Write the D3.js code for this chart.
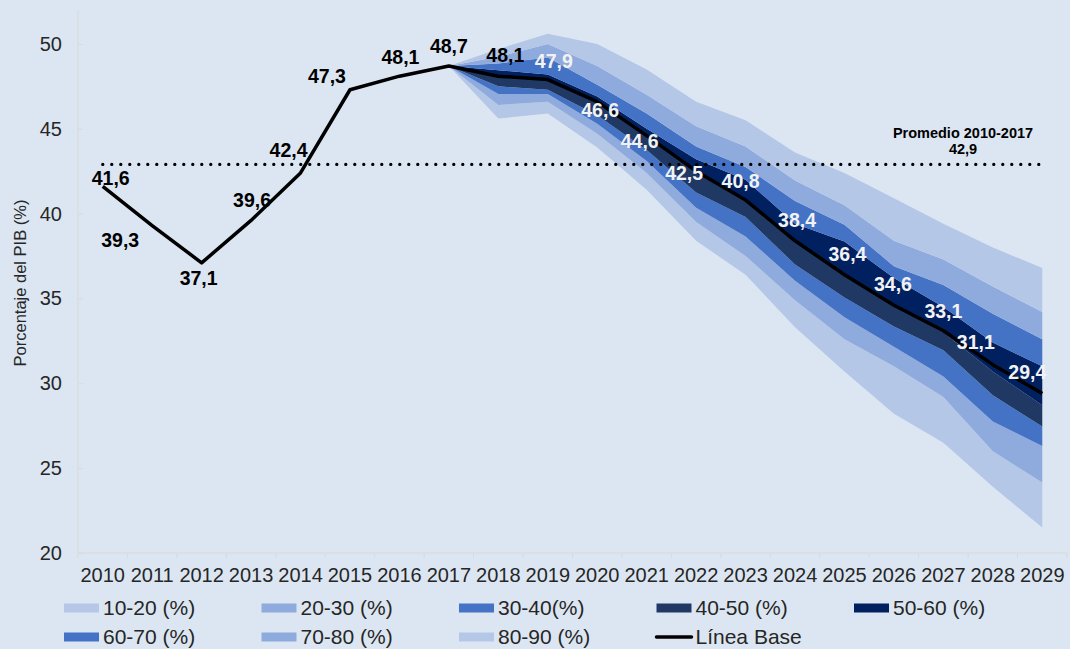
<!DOCTYPE html>
<html>
<head>
<meta charset="utf-8">
<script src="https://cdn.jsdelivr.net/npm/d3@7"></script>
<style>
  body { margin: 0; background: #dce6f2; }
  text { font-family: "Liberation Sans", Arial, sans-serif; }
</style>
</head>
<body>
<script>

// Historic years and baseline (% of GDP)
var years = [2010, 2011, 2012, 2013, 2014, 2015, 2016, 2017, 2018, 2019,
             2020, 2021, 2022, 2023, 2024, 2025, 2026, 2027, 2028, 2029];
var baseline = [41.6, 39.3, 37.1, 39.6, 42.4, 47.3, 48.1, 48.7, 48.1, 47.9,
                46.6, 44.6, 42.5, 40.8, 38.4, 36.4, 34.6, 33.1, 31.1, 29.4];
var baseLabels = ["41,6", "39,3", "37,1", "39,6", "42,4", "47,3", "48,1", "48,7", "48,1", "47,9",
                  "46,6", "44,6", "42,5", "40,8", "38,4", "36,4", "34,6", "33,1", "31,1", "29,4"];

// Fan chart percentiles, 2017-2029
var fanYears = [2017, 2018, 2019, 2020, 2021, 2022, 2023, 2024, 2025, 2026, 2027, 2028, 2029];
var p10 = [48.7, 45.6, 45.9, 43.9, 41.4, 38.4, 36.4, 33.3, 30.7, 28.2, 26.5, 23.9, 21.5];
var p20 = [48.7, 46.4, 46.6, 44.7, 42.4, 39.5, 37.5, 34.9, 32.6, 31.0, 29.2, 26.0, 24.15];
var p30 = [48.7, 47.05, 47.05, 45.3, 43.1, 40.35, 38.65, 36.05, 33.9, 32.15, 30.4, 27.75, 26.3];
var p40 = [48.7, 47.5, 47.3, 45.8, 43.75, 41.25, 39.8, 37.0, 35.05, 33.35, 31.95, 29.3, 27.45];
var p50 = [48.7, 48.1, 47.9, 46.6, 44.6, 42.5, 40.8, 38.4, 36.4, 34.6, 33.0, 30.7, 28.7];
var p60 = [48.7, 48.45, 48.2, 46.9, 45.0, 43.2, 42.0, 39.4, 38.35, 36.2, 34.5, 32.4, 31.0];
var p70 = [48.7, 48.85, 49.2, 47.6, 45.9, 43.95, 42.75, 40.75, 39.35, 36.9, 35.8, 34.1, 32.6];
var p80 = [48.7, 49.25, 50.0, 48.7, 47.0, 45.15, 43.95, 41.95, 40.5, 38.4, 37.3, 35.7, 34.2];
var p90 = [48.7, 49.7, 50.6, 50.0, 48.5, 46.6, 45.5, 43.6, 42.4, 40.9, 39.4, 38.0, 36.8];

var bandNames = ["10-20 (%)", "20-30 (%)", "30-40(%)", "40-50 (%)", "50-60 (%)",
                 "60-70 (%)", "70-80 (%)", "80-90 (%)"];
var bandColors = ["#b4c7e7", "#8faadc", "#4472c4", "#1f3864", "#002060",
                  "#4472c4", "#8faadc", "#b4c7e7"];

var average = 42.9;
var yTicks = [20, 25, 30, 35, 40, 45, 50];

// label placement relative to each point (dx, dy)
var labelDx = [8, -32, -3, 1, -12, -23, 1, 0, 7, 6, 3, -7, -12, -5, 2, 3, -1, 0, -17, -15];
var labelDy = [-8, 15, 15, -20, -23, -14, -19, -20, -21, -18, 9, 6, 2, -19, -21, -21, -21, -20, -22, -21];

var width = 1070;
var height = 649;

var svg = d3.select("body")
  .append("svg")
  .attr("width", width)
  .attr("height", height);

svg.append("rect")
  .attr("width", width)
  .attr("height", height)
  .attr("fill", "#dce6f2");

var x = d3.scaleBand()
  .domain(years)
  .range([78, 1067])
  .padding(0);

var y = d3.scaleLinear()
  .domain([20, 52])
  .range([553, 10]);

function cx(yr) { return x(yr) + x.bandwidth() / 2; }

// Fan bands
var quantiles = [p10, p20, p30, p40, p50, p60, p70, p80, p90];
var fanData = fanYears.map(function (yr, i) {
  return { year: yr, q: quantiles.map(function (a) { return a[i]; }) };
});

bandColors.forEach(function (col, b) {
  var area = d3.area()
    .x(function (d) { return cx(d.year); })
    .y0(function (d) { return y(d.q[b]); })
    .y1(function (d) { return y(d.q[b + 1]); });
  svg.append("path")
    .datum(fanData)
    .attr("d", area)
    .attr("fill", col);
});

// Axes
var yAxis = svg.append("g")
  .attr("transform", "translate(78,0)")
  .call(d3.axisRight(y).tickValues(yTicks).tickSize(5).tickFormat(""));
yAxis.select(".domain").attr("stroke", "#d9d9d9").attr("d", "M0," + y(52) + "V" + y(20));
yAxis.selectAll(".tick line").attr("stroke", "#d9d9d9");

yTicks.forEach(function (t) {
  svg.append("text")
    .attr("x", 62)
    .attr("y", y(t))
    .attr("dy", "0.35em")
    .attr("text-anchor", "end")
    .attr("font-size", "20px")
    .attr("fill", "#262626")
    .text(t);
});

var xAxis = svg.append("g")
  .attr("transform", "translate(0,553)");
xAxis.append("line")
  .attr("x1", 78).attr("x2", 1067)
  .attr("stroke", "#d9d9d9");
xAxis.selectAll("line.tk")
  .data(years.concat([null]))
  .enter().append("line")
  .attr("class", "tk")
  .attr("x1", function (d, i) { return 78 + i * x.bandwidth(); })
  .attr("x2", function (d, i) { return 78 + i * x.bandwidth(); })
  .attr("y1", 0).attr("y2", 5)
  .attr("stroke", "#d9d9d9");
xAxis.selectAll("text")
  .data(years)
  .enter().append("text")
  .attr("x", function (d) { return cx(d); })
  .attr("y", 29)
  .attr("text-anchor", "middle")
  .attr("font-size", "20px")
  .attr("fill", "#262626")
  .text(function (d) { return d; });

svg.append("text")
  .attr("transform", "translate(26,283) rotate(-90)")
  .attr("text-anchor", "middle")
  .attr("font-size", "16.5px")
  .attr("fill", "#262626")
  .text("Porcentaje del PIB (%)");

// Average line
svg.append("line")
  .attr("x1", cx(2010))
  .attr("x2", cx(2029))
  .attr("y1", y(average))
  .attr("y2", y(average))
  .attr("stroke", "#000")
  .attr("stroke-width", 3.2)
  .attr("stroke-linecap", "round")
  .attr("stroke-dasharray", "0.1,8.9");

svg.append("text")
  .attr("x", 963)
  .attr("y", 138)
  .attr("text-anchor", "middle")
  .attr("font-size", "14.5px")
  .attr("font-weight", "bold")
  .attr("fill", "#000")
  .text("Promedio 2010-2017");
svg.append("text")
  .attr("x", 963)
  .attr("y", 154)
  .attr("text-anchor", "middle")
  .attr("font-size", "14.5px")
  .attr("font-weight", "bold")
  .attr("fill", "#000")
  .text(average.toString().replace(".", ","));

// Baseline
var line = d3.line()
  .x(function (d, i) { return cx(years[i]); })
  .y(function (d) { return y(d); });

svg.append("path")
  .datum(baseline)
  .attr("d", line)
  .attr("fill", "none")
  .attr("stroke", "#000")
  .attr("stroke-width", 3.5)
  .attr("stroke-linejoin", "round");

// Data labels
baseline.forEach(function (v, i) {
  svg.append("text")
    .attr("x", cx(years[i]) + labelDx[i])
    .attr("y", y(v) + labelDy[i])
    .attr("dy", "0.35em")
    .attr("text-anchor", "middle")
    .attr("font-size", "19.5px")
    .attr("font-weight", "bold")
    .attr("fill", years[i] >= 2019 ? "#f2f2f2" : "#000")
    .text(baseLabels[i]);
});

// Legend
var legendItems = bandNames.map(function (n, i) { return { name: n, color: bandColors[i], line: false }; });
legendItems.push({ name: "Línea Base", color: "#000", line: true });

legendItems.forEach(function (it, i) {
  var col = i % 5;
  var row = Math.floor(i / 5);
  var lx = 64 + col * 197.5;
  var ly = 608 + row * 29;
  if (it.line) {
    svg.append("line")
      .attr("x1", lx).attr("x2", lx + 35)
      .attr("y1", ly).attr("y2", ly)
      .attr("stroke", "#000")
      .attr("stroke-width", 3.5)
      .attr("stroke-linecap", "round");
  } else {
    svg.append("rect")
      .attr("x", lx).attr("y", ly - 4.5)
      .attr("width", 35).attr("height", 9)
      .attr("fill", it.color);
  }
  svg.append("text")
    .attr("x", lx + 39)
    .attr("y", ly)
    .attr("dy", "0.35em")
    .attr("font-size", "21px")
    .attr("fill", "#262626")
    .text(it.name);
});

</script>
</body>
</html>
